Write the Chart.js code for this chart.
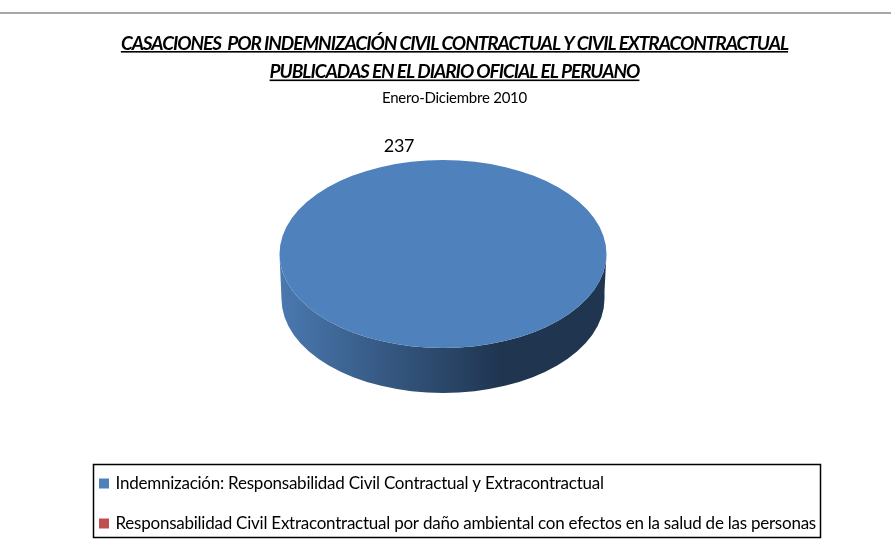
<!DOCTYPE html>
<html>
<head>
<meta charset="utf-8">
<title>Casaciones 2010</title>
<script src="https://cdn.jsdelivr.net/npm/chart.js@4"></script>
<style>
	html, body { margin: 0; padding: 0; background: #fff; }
	canvas { display: block; }
</style>
</head>
<body>
<canvas id="pieChart" width="891" height="544"></canvas>
<script>
const categories = [
	'Indemnización: Responsabilidad Civil Contractual y Extracontractual',
	'Responsabilidad Civil Extracontractual por daño ambiental con efectos en la salud de las personas'
];
const casaciones = [237, 0];
const sliceColors = ['#4f81bd', '#c0504d'];
const titleLines = [
	'CASACIONES  POR INDEMNIZACIÓN CIVIL CONTRACTUAL Y CIVIL EXTRACONTRACTUAL',
	'PUBLICADAS EN EL DIARIO OFICIAL EL PERUANO'
];
const subtitleText = 'Enero-Diciembre 2010';

const fontFamily = 'Lato, "Liberation Sans", sans-serif';

// Lato runs wider than the narrow look wanted here, so each block gets its own spacing
const titleSpacing = '-1.04px';
const subtitleSpacing = '-0.25px';
const legendSpacing = '-0.24px';

// the pie is squashed into an ellipse, the wall below it gives the 3D look
const pieCenterX = 443;
const pieCenterY = 254;
const pieRadius = 163.5;
const pieSquash = 94 / 163.5;
const pieDepth = 45;

const withSpacing = (box, spacing, fallback) => {
	const draw = box.draw;
	box.draw = function(area) {
		box.ctx.letterSpacing = spacing;
		draw.call(box, area);
		box.ctx.letterSpacing = fallback;
	};
};

const piePerspective = {
	id: 'piePerspective',
	afterInit(chart) {
		withSpacing(chart.titleBlock, titleSpacing, subtitleSpacing);
		withSpacing(chart.legend, legendSpacing, subtitleSpacing);
	},
	beforeDraw(chart) {
		const ctx = chart.ctx;
		ctx.letterSpacing = subtitleSpacing;
		ctx.save();
		// frame line on top
		ctx.fillStyle = '#a8a8a8';
		ctx.fillRect(0, 12, chart.width, 2);
		ctx.restore();
	},
	beforeDatasetsDraw(chart) {
		const ctx = chart.ctx;
		const arc = chart.getDatasetMeta(0).data[0];
		const rx = pieRadius;
		const ry = pieRadius * pieSquash;

		// wall
		const wall = ctx.createLinearGradient(pieCenterX - rx, 0, pieCenterX + rx, 0);
		wall.addColorStop(0, '#4a79b0');
		wall.addColorStop(0.68, '#1f3550');
		wall.addColorStop(1, '#1f3550');
		ctx.save();
		ctx.fillStyle = wall;
		ctx.beginPath();
		ctx.ellipse(pieCenterX, pieCenterY, rx, ry, 0, Math.PI, 0, true);
		ctx.lineTo(pieCenterX + rx - 2, pieCenterY + pieDepth - 8);
		ctx.ellipse(pieCenterX, pieCenterY + pieDepth, rx - 2, ry, 0, 0, Math.PI);
		ctx.closePath();
		ctx.fill();
		ctx.restore();

		// top face: the library arcs, drawn through the transform
		ctx.save();
		ctx.translate(pieCenterX, pieCenterY);
		ctx.scale(1, pieSquash);
		ctx.translate(-arc.x, -arc.y);
	},
	afterDatasetsDraw(chart) {
		chart.ctx.restore();
	},
	afterDraw(chart) {
		const ctx = chart.ctx;
		ctx.save();

		// value label
		ctx.letterSpacing = '-0.2px';
		ctx.fillStyle = '#000';
		ctx.font = '18px ' + fontFamily;
		ctx.textAlign = 'center';
		ctx.textBaseline = 'middle';
		ctx.fillText(String(casaciones[0]), 399, 146);

		// title underlines
		const box = chart.titleBlock;
		ctx.letterSpacing = titleSpacing;
		ctx.font = 'italic bold 19px ' + fontFamily;
		const center = (box.left + box.right) / 2;
		[51, 79.5].forEach((y, i) => {
			const w = ctx.measureText(titleLines[i]).width;
			ctx.fillRect(center - w / 2, y, w, 1.6);
		});

		// legend frame
		ctx.strokeStyle = '#000';
		ctx.lineWidth = 1.5;
		ctx.strokeRect(93.5, 464.5, 727, 73);
		ctx.restore();
	}
};

new Chart(document.getElementById('pieChart').getContext('2d'), {
	type: 'pie',
	data: {
		labels: categories,
		datasets: [{
			data: casaciones,
			backgroundColor: sliceColors,
			borderWidth: 0,
			radius: pieRadius
		}]
	},
	options: {
		responsive: false,
		animation: false,
		layout: { padding: { left: 78, right: 60, top: 0, bottom: 2 } },
		plugins: {
			title: {
				display: true,
				text: titleLines,
				color: '#000',
				font: { family: fontFamily, size: 19, style: 'italic', weight: 'bold', lineHeight: 1.47 },
				padding: { top: 30, bottom: 0 }
			},
			subtitle: {
				display: true,
				text: subtitleText,
				color: '#000',
				font: { family: fontFamily, size: 15, weight: 'normal' },
				padding: { top: 3, bottom: 0 }
			},
			legend: {
				display: true,
				position: 'bottom',
				align: 'start',
				labels: {
					color: '#000',
					font: { family: fontFamily, size: 17 },
					boxWidth: 6,
					boxHeight: 6,
					padding: 23,
					// small box with a thick same-colour edge keeps the text close to the swatch
					generateLabels(chart) {
						return categories.map((label, i) => ({
							text: label,
							fillStyle: sliceColors[i],
							strokeStyle: sliceColors[i],
							lineWidth: 4,
							index: i
						}));
					}
				}
			},
			tooltip: { enabled: false }
		}
	},
	plugins: [piePerspective]
});
</script>
</body>
</html>
